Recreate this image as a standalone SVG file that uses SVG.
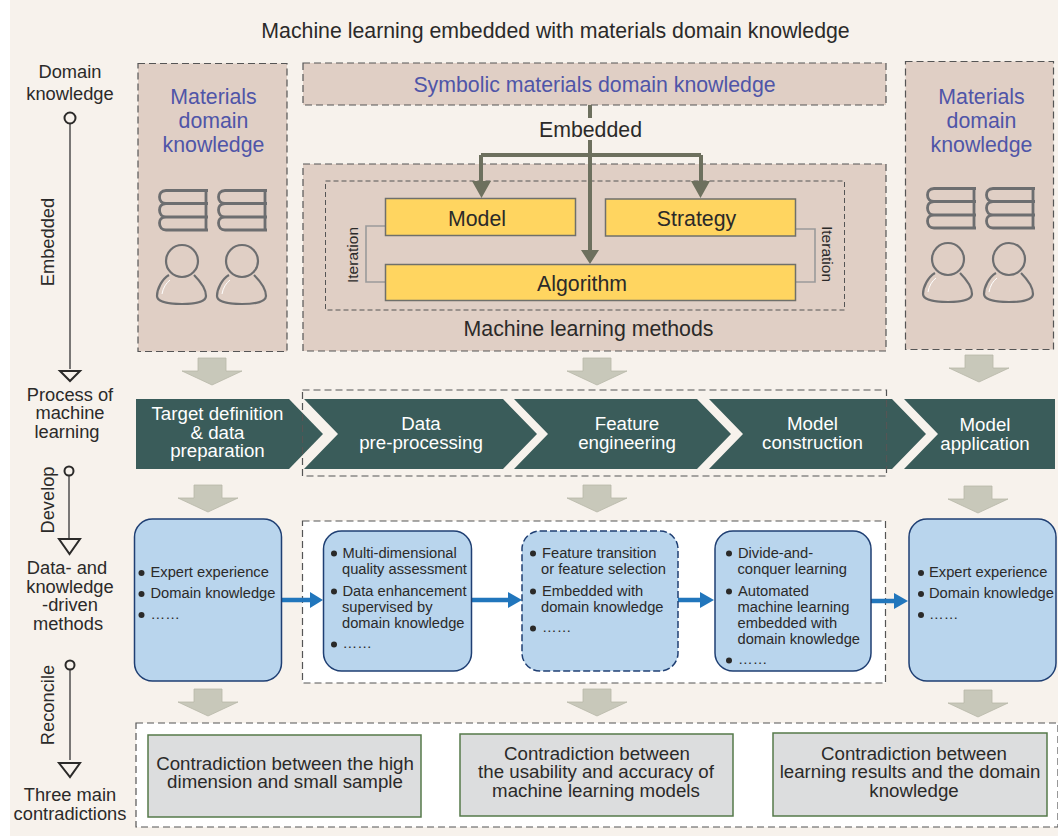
<svg xmlns="http://www.w3.org/2000/svg" width="1058" height="836" viewBox="0 0 1058 836">
<style>
text{font-family:"Liberation Sans",Arial,sans-serif;fill:#2b2a29;text-anchor:middle}
.t18{font-size:18.7px}.t21{font-size:21.3px}.t17{font-size:18.3px}
.pur{font-size:21.3px;fill:#4f55a8}
.wh{font-size:18.7px;fill:#fff}
.b{font-size:14.7px;text-anchor:start}
.it-t{font-size:15.500px}
.dash{stroke:#555;stroke-width:1.2;stroke-dasharray:7 4}
.panel{fill:#e0cfc5}
.yel{fill:#ffd560;stroke:#6f706b;stroke-width:1.5}
.blue{fill:#b9d5ed;stroke:#1f3f73;stroke-width:1.5}
.gray{fill:#dcddde;stroke:#55794a;stroke-width:1.5}
.chev{fill:#3a5c5a}
.ga{fill:#c8c8ba;stroke:#b8b8a8;stroke-width:.8}
.ol{fill:none;stroke:#6d705e;stroke-width:4}
.olh{fill:#6d705e}
.it{fill:none;stroke:#9a9a9a;stroke-width:1.6}
.bl{stroke:#2176bc;stroke-width:4.500;fill:none}
.blh{fill:#2176bc}
.ax{stroke:#444;stroke-width:1.400;fill:none}
.axo{stroke:#2b2a29;stroke-width:2;fill:#f7f2ec}
.ic{fill:none;stroke:#6d6e70;stroke-width:2.200}
.ich{fill:none;stroke:#fff;stroke-width:1}
.bk{fill:none;stroke:#6d6e70;stroke-width:2.800}
</style>
<defs>
<g id="book"><path class="bk" d="M50 1.500H8C3 1.500 1.500 5 1.500 8C1.500 12 4 14.500 8 14.500H50M8 14.500C3 14.500 1.500 18 1.500 21C1.500 25 4 28 8 28H50M8 28C3 28 1.500 31 1.500 34C1.500 38 4 41 8 41H50M48 1.500V41"/></g>
<g id="person"><circle class="ic" r="16"/><path class="ic" d="M-13 14C-20 18-25 28-25 35C-25 41-12 43 0 43C12 43 24 41 24 35C24 28 18 20 12 14"/><path class="ich" d="M-20 33C-19 27-16 22-12 19"/></g>
<path id="ga" class="ga" d="M-14 0H14V13H30L0 27L-30 13H-14Z"/>
<circle id="dot" r="3" fill="#2b2a29"/>
</defs>
<rect width="1058" height="836" fill="#fff"/>
<rect x="10" width="1048" height="836" fill="#f7f2ec"/>
<text id="title" x="555.500" y="37.500" style="font-size:21.300px">Machine learning embedded with materials domain knowledge</text>

<g id="axis">
<text class="t17"><tspan x="70" y="78">Domain</tspan><tspan x="70" y="100">knowledge</tspan></text>
<text class="t17" transform="translate(54 242) rotate(-90)">Embedded</text>
<text class="t17"><tspan x="70" y="401">Process of</tspan><tspan x="70" y="419">machine</tspan><tspan x="67" y="438">learning</tspan></text>
<text class="t17" transform="translate(54 500) rotate(-90)">Develop</text>
<text class="t17"><tspan x="67" y="574">Data- and</tspan><tspan x="70" y="593">knowledge</tspan><tspan x="70" y="611">-driven</tspan><tspan x="68" y="630">methods</tspan></text>
<text class="t17" transform="translate(54 705) rotate(-90)">Reconcile</text>
<text class="t17"><tspan x="70" y="801">Three main</tspan><tspan x="70" y="820">contradictions</tspan></text>
<path class="ax" d="M70 121V369M69 475V539M70 669V760"/>
<circle class="axo" cx="70" cy="118" r="5.500"/><circle class="axo" cx="69" cy="471" r="4.500"/><circle class="axo" cx="70" cy="665" r="4.500"/>
<path class="axo" d="M60 371H80L70 381Z"/><path class="axo" d="M59 539H80L69.500 554Z"/><path class="axo" d="M59 763H80L70 777Z"/>
</g>

<g id="panel-left">
<rect class="panel dash" x="138" y="63.500" width="149" height="288"/>
<text class="pur"><tspan x="213.500" y="104">Materials</tspan><tspan x="213.500" y="128">domain</tspan><tspan x="213.500" y="152">knowledge</tspan></text>
<use href="#book" x="158" y="189"/><use href="#book" x="217" y="189"/>
<use href="#person" x="182" y="261"/><use href="#person" x="242" y="261"/>
</g>
<g id="panel-symbolic">
<rect class="panel dash" x="303" y="63" width="583" height="42"/>
<text class="pur" x="594.500" y="92">Symbolic materials domain knowledge</text>
</g>
<g id="panel-ml">
<rect class="panel dash" x="303" y="164" width="583" height="187"/>
<rect fill="none" class="dash" x="325.500" y="181" width="519" height="129" style="stroke-width:1;stroke-dasharray:5 3"/>
<text class="t21" x="588.500" y="335.500">Machine learning methods</text>
</g>
<g id="panel-right">
<rect class="panel dash" x="905.500" y="61.500" width="148" height="288"/>
<text class="pur"><tspan x="981.500" y="104">Materials</tspan><tspan x="981.500" y="128">domain</tspan><tspan x="981.500" y="152">knowledge</tspan></text>
<use href="#book" x="926" y="187"/><use href="#book" x="985" y="187"/>
<use href="#person" x="948" y="259"/><use href="#person" x="1009" y="259"/>
</g>

<rect id="methods-frame" x="302.500" y="521" width="583" height="162" fill="#fff" class="dash"/>
<rect id="contra-frame" x="136" y="723" width="922" height="104" fill="#fff" class="dash"/>

<g id="connectors">
<path class="ol" d="M590 105V118M590 140V252M481 155H701M481 155V185M701 155V185"/>
<path class="olh" d="M472 181H491L481.500 198ZM691 181H710L700.500 198ZM581 250H599L590 264Z"/>
<path class="it" d="M385 226H366V282H385M796 229H815V282H796"/>
<path class="bl" d="M282 600H312M471 600H510M678 600H702M871 601H896"/>
<path class="blh" d="M310 592L323 600L310 608ZM508 592L522 600L508 608ZM700 592L714 600L700 608ZM894 593L908 601L894 609Z"/>
<use href="#ga" x="212" y="358"/><use href="#ga" x="597" y="358"/><use href="#ga" x="979" y="355"/>
<use href="#ga" x="208" y="485"/><use href="#ga" x="597" y="485"/><use href="#ga" x="978" y="486"/>
<use href="#ga" x="208" y="689"/><use href="#ga" x="597" y="689"/><use href="#ga" x="978" y="690"/>
</g>
<text id="embedded" class="t21" x="590.500" y="136.500">Embedded</text>
<g id="model"><rect class="yel" x="385.500" y="198.500" width="190" height="37"/><text class="t21" x="477" y="226">Model</text></g>
<g id="strategy"><rect class="yel" x="605.500" y="199" width="190" height="37"/><text class="t21" x="696.500" y="226">Strategy</text></g>
<g id="algorithm"><rect class="yel" x="385.500" y="264.500" width="410" height="36"/><text class="t21" x="582" y="291">Algorithm</text></g>
<text id="iter-l" class="it-t" transform="translate(358 255) rotate(-90)">Iteration</text>
<text id="iter-r" class="it-t" transform="translate(822 254) rotate(90)">Iteration</text>

<g id="process">
<g id="p1"><path class="chev" d="M136 399H289L323 434L289 469H136Z"/><text class="wh"><tspan x="217.500" y="420">Target definition</tspan><tspan x="217.500" y="439">&amp; data</tspan><tspan x="217.500" y="457">preparation</tspan></text></g>
<g id="p2"><path class="chev" d="M304 399H503L537 434L503 469H304L338 434Z"/><text class="wh"><tspan x="421" y="430">Data</tspan><tspan x="421" y="449">pre-processing</tspan></text></g>
<g id="p3"><path class="chev" d="M514 399H697L731 434L697 469H514L548 434Z"/><text class="wh"><tspan x="627" y="430">Feature</tspan><tspan x="627" y="449">engineering</tspan></text></g>
<g id="p4"><path class="chev" d="M709 399H892L926 434L892 469H709L743 434Z"/><text class="wh"><tspan x="812.500" y="430">Model</tspan><tspan x="812.500" y="449">construction</tspan></text></g>
<g id="p5"><path class="chev" d="M904 399H1055V469H904L938 434Z"/><text class="wh"><tspan x="985" y="431">Model</tspan><tspan x="985" y="450">application</tspan></text></g>
<rect x="302.500" y="390" width="584" height="86" fill="none" class="dash"/>
</g>

<g id="m1"><rect class="blue" x="134.500" y="519" width="147" height="162" rx="18"/>
<use href="#dot" x="141.500" y="573"/><use href="#dot" x="141.500" y="594"/><use href="#dot" x="141.500" y="615"/>
<text class="b" x="150.500" y="577">Expert experience</text><text class="b" x="150.500" y="598">Domain knowledge</text><text class="b" x="150.500" y="619">……</text></g>
<g id="m2"><rect class="blue" x="323.500" y="531" width="148" height="140" rx="18"/>
<use href="#dot" x="334" y="553.500"/><use href="#dot" x="334" y="591.500"/><use href="#dot" x="334" y="644.500"/>
<text class="b"><tspan x="342.500" y="558">Multi-dimensional</tspan><tspan x="342" y="574">quality assessment</tspan></text><text class="b"><tspan x="342.500" y="596">Data enhancement</tspan><tspan x="342" y="612">supervised by</tspan><tspan x="342" y="628">domain knowledge</tspan></text><text class="b" x="342.500" y="648">……</text></g>
<g id="m3"><rect class="blue" x="522" y="531" width="156" height="140" rx="18" style="stroke-dasharray:7 3"/>
<use href="#dot" x="533" y="553.500"/><use href="#dot" x="533" y="591.500"/><use href="#dot" x="533" y="628.500"/>
<text class="b"><tspan x="542" y="558">Feature transition</tspan><tspan x="541" y="574">or feature selection</tspan></text><text class="b"><tspan x="542" y="596">Embedded with</tspan><tspan x="541" y="612">domain knowledge</tspan></text><text class="b" x="542" y="632">……</text></g>
<g id="m4"><rect class="blue" x="715" y="531" width="156" height="140" rx="18"/>
<use href="#dot" x="729" y="553.500"/><use href="#dot" x="729" y="591.500"/><use href="#dot" x="729" y="660.500"/>
<text class="b"><tspan x="738" y="558">Divide-and-</tspan><tspan x="737.500" y="574">conquer learning</tspan></text><text class="b"><tspan x="738" y="596">Automated</tspan><tspan x="737.500" y="612">machine learning</tspan><tspan x="737.500" y="628">embedded with</tspan><tspan x="737.500" y="644">domain knowledge</tspan></text><text class="b" x="738" y="664">……</text></g>
<g id="m5"><rect class="blue" x="909" y="519" width="147" height="162" rx="18"/>
<use href="#dot" x="921" y="573"/><use href="#dot" x="921" y="594"/><use href="#dot" x="921" y="615"/>
<text class="b" x="929" y="577">Expert experience</text><text class="b" x="929" y="598">Domain knowledge</text><text class="b" x="929" y="619">……</text></g>

<g id="c1"><rect class="gray" x="148" y="735" width="273" height="82"/><text class="t18"><tspan x="285" y="770">Contradiction between the high</tspan><tspan x="285" y="788">dimension and small sample</tspan></text></g>
<g id="c2"><rect class="gray" x="460" y="734" width="273" height="82"/><text class="t18"><tspan x="597" y="760">Contradiction between</tspan><tspan x="596" y="778">the usability and accuracy of</tspan><tspan x="596" y="797">machine learning models</tspan></text></g>
<g id="c3"><rect class="gray" x="773" y="733" width="274" height="83"/><text class="t18"><tspan x="914" y="760">Contradiction between</tspan><tspan x="910" y="778">learning results and the domain</tspan><tspan x="914" y="797">knowledge</tspan></text></g>
</svg>
